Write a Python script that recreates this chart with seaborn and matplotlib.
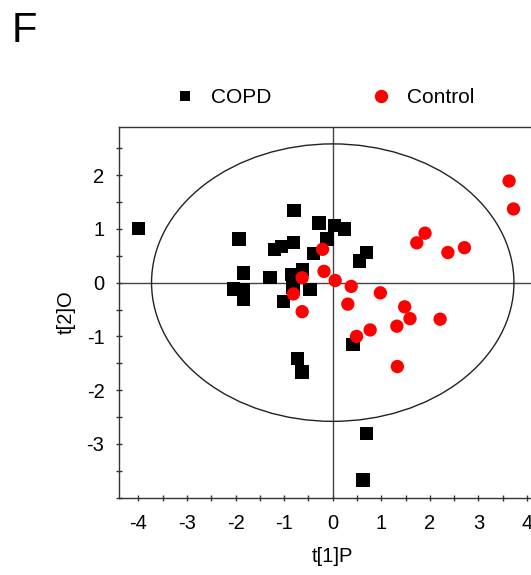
import matplotlib
matplotlib.use("Agg")
import matplotlib.pyplot as plt
from matplotlib.patches import Ellipse
from matplotlib.lines import Line2D
from matplotlib.ticker import MultipleLocator
import numpy as np
import pandas as pd
import seaborn as sns

# ---- data ----
copd_t1 = [-4.00, -0.80, -0.28, 0.03, 0.24, -1.93, -1.20, -1.05, -0.81, -0.12,
           -0.40, 0.69, 0.55, -1.84, -1.29, -0.84, -0.62, -2.05, -1.84, -1.84,
           -0.82, -0.47, -1.02, 0.42, -0.72, -0.63, 0.69, 0.62]
copd_t2 = [1.01, 1.34, 1.11, 1.06, 1.00, 0.81, 0.61, 0.67, 0.75, 0.81,
           0.54, 0.56, 0.40, 0.18, 0.10, 0.15, 0.25, -0.12, -0.13, -0.32,
           -0.08, -0.13, -0.35, -1.15, -1.41, -1.66, -2.81, -3.67]
ctrl_t1 = [3.63, 3.72, 1.90, 1.73, 2.37, 2.71, -0.21, -0.18, -0.63, 0.05, 0.38,
           -0.81, 0.31, -0.63, 0.98, 1.48, 1.59, 1.32, 2.21, 0.77, 0.49, 1.33]
ctrl_t2 = [1.89, 1.37, 0.92, 0.74, 0.56, 0.65, 0.62, 0.21, 0.09, 0.04, -0.07,
           -0.21, -0.40, -0.54, -0.19, -0.45, -0.67, -0.81, -0.68, -0.88, -1.00, -1.56]
groups = ["COPD", "Control"]
ellipse_semi_axes = (3.73, 2.58)   # Hotelling T2 ellipse
x_ticks = [-4, -3, -2, -1, 0, 1, 2, 3, 4]
y_ticks = [-3, -2, -1, 0, 1, 2]

df = pd.DataFrame({
    "t1": copd_t1 + ctrl_t1,
    "t2": copd_t2 + ctrl_t2,
    "group": [groups[0]] * len(copd_t1) + [groups[1]] * len(ctrl_t1),
})

sns.set_style("white")
plt.rcParams["font.family"] = ["Liberation Sans", "DejaVu Sans"]
plt.rcParams["axes.unicode_minus"] = False
plt.rcParams["text.color"] = "black"
plt.rcParams["axes.labelcolor"] = "black"
plt.rcParams["xtick.color"] = "black"
plt.rcParams["ytick.color"] = "black"

fig = plt.figure(figsize=(5.31, 5.75), dpi=100)
W, H = 531, 575
ax = fig.add_axes([119 / W, 77.3 / H, (546.5 - 119) / W, 371 / H])

dark = "#333333"
ax.axhline(0, color="#444444", lw=1.0, zorder=1)
ax.axvline(0, color="#444444", lw=1.0, zorder=1)
ax.add_patch(Ellipse((0, 0), 2 * ellipse_semi_axes[0], 2 * ellipse_semi_axes[1],
                     fill=False, ec="#222222", lw=1.0, zorder=1))

sns.scatterplot(data=df, x="t1", y="t2", hue="group", style="group",
                palette={"COPD": "black", "Control": "#ff0000"},
                markers={"COPD": "s", "Control": "o"},
                s=92, linewidth=0, legend=False, ax=ax, zorder=3)

ax.set_xlim(-4.40, 4.40)
ax.set_ylim(-4.0, 2.90)
ax.set_xticks(x_ticks)
ax.set_yticks(y_ticks)
ax.xaxis.set_minor_locator(MultipleLocator(0.5))
ax.yaxis.set_minor_locator(MultipleLocator(0.5))
ax.tick_params(which="both", direction="inout", length=5, width=1, color=dark,
               labelsize=14.5, labelcolor="black")
ax.tick_params(axis="x", which="both", bottom=True, pad=9)
ax.tick_params(axis="y", which="both", left=True, pad=8)
for side in ["left", "bottom", "top"]:
    ax.spines[side].set_color(dark)
    ax.spines[side].set_linewidth(1)
ax.spines["right"].set_visible(False)

ax.set_xlabel("t[1]P", fontsize=14.5, labelpad=10, color="black")
ax.set_ylabel("t[2]O", fontsize=14.5, labelpad=8, color="black")

handles = [
    Line2D([], [], marker="s", color="black", ls="none", markersize=7.3, markeredgewidth=0),
    Line2D([], [], marker="o", color="#ff0000", ls="none", markersize=9.6, markeredgewidth=0),
]
fig.legend(handles, groups, loc="center left", bbox_to_anchor=(174.6 / W, 1 - 97.3 / H),
           ncol=2, frameon=False, fontsize=15, handlelength=1.0, handletextpad=0.75,
           columnspacing=4.74, borderpad=0, borderaxespad=0, labelcolor="black")

fig.text(12 / W, 1 - 31 / H, "F", fontsize=30, ha="left", va="center", color="black")

fig.savefig("out.png", dpi=100)
